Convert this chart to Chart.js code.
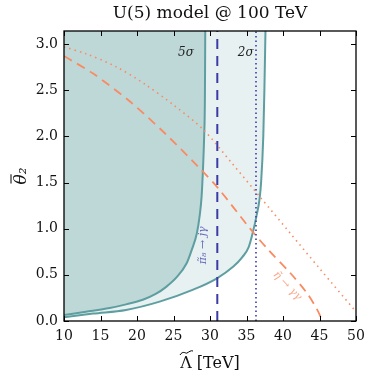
<!DOCTYPE html>
<html>
<head>
<meta charset="utf-8">
<script src="https://cdn.jsdelivr.net/npm/chart.js@4.4.1/dist/chart.umd.min.js"></script>
<style>
  html, body { margin: 0; padding: 0; background: #fff; }
  #wrap { width: 374px; height: 386px; }
</style>
</head>
<body>
<div id="wrap"><canvas id="plot"></canvas></div>
<script>
// 5 sigma contour
const sig5X = [10, 13, 16.25, 18.5, 20.8, 22.5, 24.0, 25.5, 26.8, 27.5, 28.2, 28.6, 28.85, 29.05, 29.2, 29.3, 29.35];
const sig5Y = [0.065, 0.10, 0.14, 0.18, 0.23, 0.29, 0.37, 0.48, 0.625, 0.77, 0.95, 1.15, 1.35, 1.67, 2.0, 2.4, 3.1416];
// 2 sigma contour
const sig2X = [10, 14, 18.5, 23.1, 27.7, 30.9, 33.2, 34.4, 35.3, 35.9, 36.4, 36.75, 37.0, 37.3, 37.45, 37.6];
const sig2Y = [0.04, 0.08, 0.12, 0.21, 0.34, 0.46, 0.59, 0.69, 0.80, 0.97, 1.15, 1.3, 1.5, 2.0, 2.5, 3.1416];
// eta -> gamma gamma (dashed orange)
const etaX = [10, 14, 19, 23.6, 28.4, 31.1, 35.5, 38, 41, 43.3, 44.7, 45.4];
const etaY = [2.87, 2.68, 2.38, 2.05, 1.67, 1.44, 1.0, 0.77, 0.52, 0.30, 0.12, 0.0];
// second orange bound (dotted)
const dotX = [10, 13, 17, 21, 25, 29, 33, 37, 41, 45, 50];
const dotY = [2.97, 2.895, 2.76, 2.57, 2.34, 2.08, 1.71, 1.33, 0.95, 0.57, 0.10];
// pi8 -> j gamma bounds (vertical lines)
const pi8Dashed = 31.0;
const pi8Dotted = 36.3;

const xTicks = [10, 15, 20, 25, 30, 35, 40, 45, 50];
const yTicks = [0.0, 0.5, 1.0, 1.5, 2.0, 2.5, 3.0];
const yMax = 3.1416;

const pts = (xs, ys) => xs.map((x, i) => ({x: x, y: ys[i]}));

const teal = '#5f9ea0';
const serif = "'DejaVu Serif', serif";

// inward ticks on all 4 sides, frame, title and text labels
const decor = {
  id: 'decor',
  afterDraw(chart) {
    const c = chart.ctx, xs = chart.scales.x, ys = chart.scales.y, a = chart.chartArea;
    c.save();
    c.strokeStyle = '#000';
    c.lineWidth = 1;
    xTicks.forEach(v => {
      const p = Math.round(xs.getPixelForValue(v)) + 0.5;
      c.beginPath();
      c.moveTo(p, a.bottom); c.lineTo(p, a.bottom - 5);
      c.moveTo(p, a.top); c.lineTo(p, a.top + 5);
      c.stroke();
    });
    yTicks.forEach(v => {
      const p = Math.round(ys.getPixelForValue(v)) + 0.5;
      c.beginPath();
      c.moveTo(a.left, p); c.lineTo(a.left + 5, p);
      c.moveTo(a.right, p); c.lineTo(a.right - 5, p);
      c.stroke();
    });
    c.lineWidth = 1.3;
    c.strokeRect(a.left, a.top, a.right - a.left, a.bottom - a.top);

    const cx = (a.left + a.right) / 2;
    c.fillStyle = '#111';
    c.textAlign = 'center';
    c.textBaseline = 'middle';

    // title
    c.font = "17px " + serif;
    c.fillText('U(5) model @ 100 TeV', cx, 14);

    // x title with wide tilde
    c.font = "16px " + serif;
    const xt = 'Λ [TeV]';
    const w = c.measureText(xt).width, wl = c.measureText('Λ').width;
    const ty = 364;
    c.fillText(xt, cx, ty);
    const lx = cx - w / 2 + wl / 2;
    c.lineWidth = 1;
    c.beginPath();
    c.moveTo(lx - 6, ty - 9);
    c.bezierCurveTo(lx - 3, ty - 14, lx, ty - 10, lx + 1, ty - 11);
    c.bezierCurveTo(lx + 3, ty - 12, lx + 5, ty - 14, lx + 7, ty - 13);
    c.stroke();

    // y title with bar
    c.save();
    c.translate(22, (a.top + a.bottom) / 2);
    c.rotate(-Math.PI / 2);
    c.font = "italic 17px " + serif;
    const yt = 'θ₂';
    const yw = c.measureText(yt).width, tw = c.measureText('θ').width;
    c.fillText(yt, 0, 0);
    const bx = -yw / 2;
    c.beginPath();
    c.moveTo(bx + 1, -11); c.lineTo(bx + tw, -11);
    c.stroke();
    c.restore();

    c.fillStyle = '#222';
    c.font = "italic 12px " + serif;
    c.fillText('5σ', xs.getPixelForValue(26.7), ys.getPixelForValue(2.91));
    c.fillText('2σ', xs.getPixelForValue(34.9), ys.getPixelForValue(2.91));

    // rotated labels
    c.font = "italic 11px " + serif;
    c.fillStyle = 'rgba(60,60,170,0.75)';
    c.save();
    c.translate(xs.getPixelForValue(29.0), ys.getPixelForValue(0.82));
    c.rotate(-Math.PI / 2);
    c.fillText('π̃₈ → jγ', 0, 0);
    c.restore();

    c.fillStyle = 'rgba(250,128,90,0.7)';
    c.save();
    c.translate(xs.getPixelForValue(40.6), ys.getPixelForValue(0.38));
    c.rotate(46 * Math.PI / 180);
    c.fillText('η̃ → γγ', 0, 0);
    c.restore();
    c.restore();
  }
};

window.onload = function () {
  const ctx = document.getElementById('plot').getContext('2d');
  new Chart(ctx, {
    type: 'line',
    data: {
      datasets: [
        {
          data: pts(sig2X, sig2Y), borderColor: teal, borderWidth: 2,
          backgroundColor: 'rgb(231,241,242)', fill: 'end', order: 5,
          pointRadius: 0, cubicInterpolationMode: 'monotone'
        },
        {
          data: pts(sig5X, sig5Y), borderColor: teal, borderWidth: 2,
          backgroundColor: 'rgb(190,216,216)', fill: 'end', order: 4,
          pointRadius: 0, cubicInterpolationMode: 'monotone'
        },
        {
          data: pts(etaX, etaY), borderColor: '#fa8a62', borderWidth: 1.8,
          borderDash: [9, 6], fill: false, order: 1, pointRadius: 0,
          tension: 0.3
        },
        {
          data: pts(dotX, dotY), borderColor: '#fa8a62', borderWidth: 1.6,
          borderDash: [1.5, 4], fill: false, order: 1, pointRadius: 0,
          tension: 0.3
        },
        {
          data: [{x: pi8Dashed, y: 0}, {x: pi8Dashed, y: yMax}],
          borderColor: '#3b3ba8', borderWidth: 2, borderDash: [10, 7],
          fill: false, order: 0, pointRadius: 0
        },
        {
          data: [{x: pi8Dotted, y: 0}, {x: pi8Dotted, y: yMax}],
          borderColor: '#3b3ba8', borderWidth: 1.6, borderDash: [1.5, 3],
          fill: false, order: 0, pointRadius: 0
        }
      ]
    },
    options: {
      responsive: true,
      maintainAspectRatio: false,
      animation: false,
      layout: { padding: { left: 0, right: 18, top: 31, bottom: 0 } },
      plugins: {
        legend: { display: false },
        tooltip: { enabled: false },
        title: { display: false }
      },
      scales: {
        x: {
          type: 'linear', min: 10, max: 50,
          afterBuildTicks: s => { s.ticks = xTicks.map(v => ({value: v})); },
          afterFit: s => { s.height = 65; },
          grid: { display: false, drawTicks: false },
          border: { display: false },
          ticks: { color: '#111', padding: 7, font: { family: serif, size: 14 }, maxRotation: 0 }
        },
        y: {
          type: 'linear', min: 0, max: yMax,
          afterBuildTicks: s => { s.ticks = yTicks.map(v => ({value: v})); },
          afterFit: s => { s.width = 64; },
          grid: { display: false, drawTicks: false },
          border: { display: false },
          ticks: {
            color: '#111', padding: 6, font: { family: serif, size: 14 },
            callback: v => v.toFixed(1)
          }
        }
      }
    },
    plugins: [decor]
  });
};
</script>
</body>
</html>
